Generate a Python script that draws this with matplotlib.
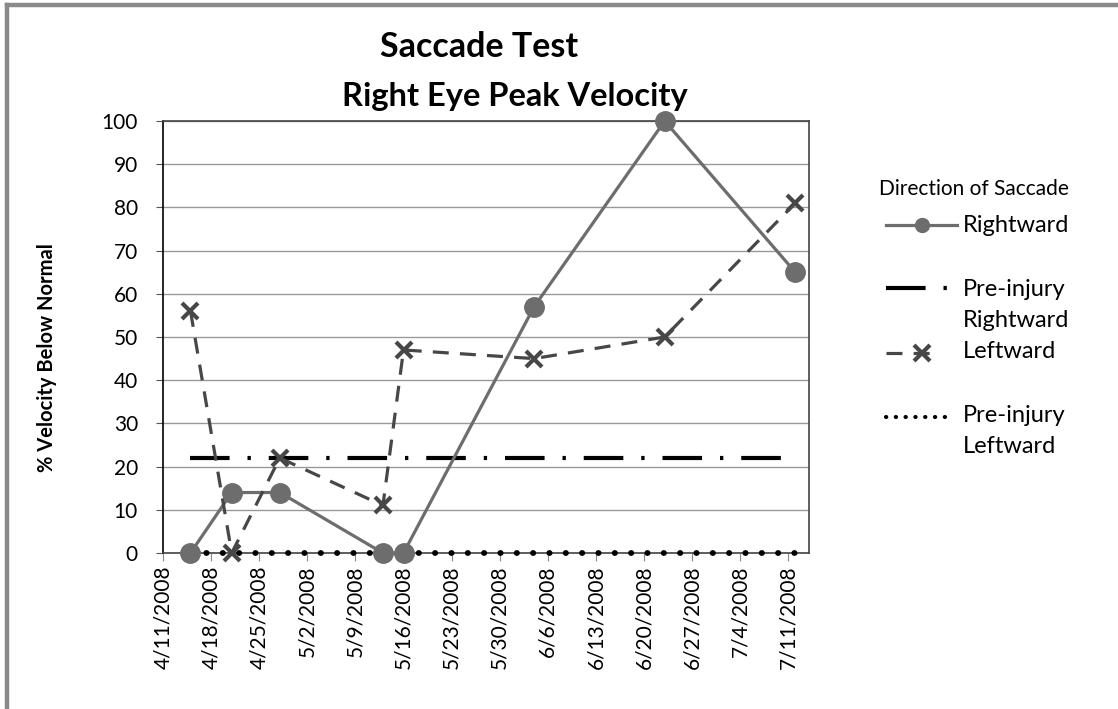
import matplotlib
matplotlib.use("Agg")
import matplotlib.pyplot as plt
import matplotlib.dates as mdates
from matplotlib.lines import Line2D
from matplotlib.ticker import FuncFormatter, MultipleLocator
import numpy as np

plt.rcParams['font.family'] = ['Lato', 'DejaVu Sans']

# data
test_dates = np.array(["2008-04-15", "2008-04-21", "2008-04-28", "2008-05-13",
                       "2008-05-16", "2008-06-04", "2008-06-23", "2008-07-12"],
                      dtype="datetime64[D]")
rightward = [0, 14, 14, 0, 0, 57, 100, 65]
leftward = [56, 0, 22, 11, 47, 45, 50, 81]
pre_injury_right = [22] * len(test_dates)
pre_injury_left = [0] * len(test_dates)

tick_dates = np.arange(np.datetime64("2008-04-11"), np.datetime64("2008-07-12"), 7)
x_min, x_max = np.datetime64("2008-04-11"), np.datetime64("2008-07-14")

W, H = 1118, 709
fig = plt.figure(figsize=(W / 100, H / 100), dpi=100)
ax = fig.add_axes([163 / W, 1 - 553 / H, (809 - 163) / W, (553 - 121) / H])

c_right = "#6d6d6d"
c_left = "#474747"
dash_dot = (0, (9.5, 4.3, 0.8, 4.3))
dotted = (0, (0.05, 2.75))
dashed = (0, (5, 3.5))

ax.plot(test_dates, pre_injury_left, color="black", lw=4.2, linestyle=dotted,
        dash_capstyle="round", zorder=3, clip_on=False)
ax.plot(test_dates, pre_injury_right, color="black", lw=3.0, linestyle=dash_dot,
        dash_capstyle="butt", zorder=3)
ax.plot(test_dates, rightward, color=c_right, lw=2.3, marker="o",
        markersize=14, zorder=4, clip_on=False)
ax.plot(test_dates, leftward, color=c_left, lw=2.3, linestyle=dashed,
        marker="x", markersize=12, markeredgewidth=3, zorder=5, clip_on=False)

ax.set_xlim(x_min, x_max)
ax.set_ylim(0, 100)
ax.yaxis.set_major_locator(MultipleLocator(10))
ax.set_xticks(tick_dates)
ax.xaxis.set_major_formatter(FuncFormatter(
    lambda v, p: "{d.month}/{d.day}/{d.year}".format(d=mdates.num2date(v))))
ax.tick_params(axis="x", rotation=90, labelsize=15, length=6, color="#888888", pad=3)
ax.tick_params(axis="y", labelsize=15, length=5, color="#555555", pad=13)
ax.grid(axis="y", color="#999999", lw=1)
ax.set_axisbelow(True)
for s in ax.spines.values():
    s.set_color("#444444")
    s.set_linewidth(1.2)
ax.spines["left"].set_color("black")

ax.set_ylabel("% Velocity Below Normal", fontsize=14.5, fontweight="bold")
ax.yaxis.set_label_coords((57 - 163) / 646, 1 - (358 - 121) / 432)


def fx(px):
    return px / W


def fy(py):
    return 1 - py / H


fig.text(fx(479), fy(57), "Saccade Test", ha="center", va="baseline",
         fontsize=24.5, fontweight="bold")
fig.text(fx(515), fy(106), "Right Eye Peak Velocity", ha="center", va="baseline",
         fontsize=23.5, fontweight="bold")

# legend, laid out like the Excel one
fig.text(fx(879), fy(195), "Direction of Saccade", ha="left", va="baseline", fontsize=15)
fig.add_artist(Line2D([fx(886), fx(957)], [fy(225), fy(225)], color=c_right, lw=2.3))
fig.add_artist(Line2D([fx(922)], [fy(225)], color=c_right, marker="o", markersize=10))
fig.add_artist(Line2D([fx(886), fx(950)], [fy(288), fy(288)], color="black", lw=3.0,
                      linestyle=dash_dot, dash_capstyle="butt"))
fig.add_artist(Line2D([fx(886), fx(940)], [fy(353), fy(353)], color=c_left, lw=2.3,
                      linestyle=dashed))
fig.add_artist(Line2D([fx(922)], [fy(353)], color=c_left, marker="x", markersize=11,
                      markeredgewidth=3))
fig.add_artist(Line2D([fx(886), fx(950)], [fy(417), fy(417)], color="black", lw=3.0,
                      linestyle=(0, (0.05, 2.3)), dash_capstyle="round"))
legend_lines = [("Rightward", 232), ("Pre-injury", 296), ("Rightward", 327),
                ("Leftward", 358), ("Pre-injury", 422), ("Leftward", 453)]
for txt, py in legend_lines:
    fig.text(fx(963), fy(py), txt, ha="left", va="baseline", fontsize=17)

# chart area border (left and top edges visible)
fig.add_artist(Line2D([fx(7), fx(7)], [0, fy(5)], color="#8a8a8a", lw=3.2))
fig.add_artist(Line2D([fx(7), 1], [fy(5), fy(5)], color="#8a8a8a", lw=3.2))

fig.savefig("out.png", dpi=100)
